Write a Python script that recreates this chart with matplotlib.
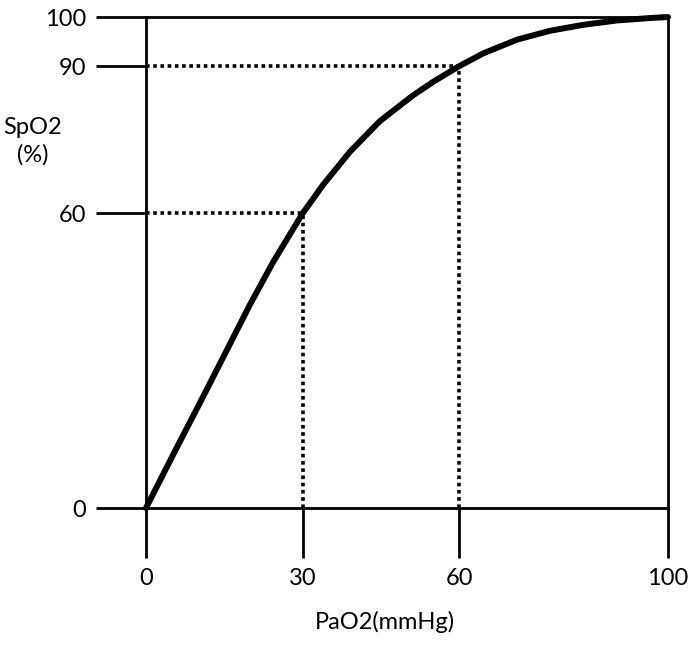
import matplotlib
matplotlib.use("Agg")
import matplotlib.pyplot as plt

plt.rcParams['font.family'] = ['Lato', 'DejaVu Sans']

# 酸素解離曲線
pao2 = [0, 5.5, 11, 15.5, 20, 24.3, 30, 33.9, 39.1, 44.8, 51.1, 55, 60,
        64.6, 71.1, 77.4, 83.7, 90.2, 96.6, 100]
spo2 = [0, 11.5, 22.8, 32.2, 41.6, 50, 60, 65.8, 72.6, 78.8, 84, 86.8, 90,
        92.6, 95.4, 97.2, 98.4, 99.3, 99.8, 100]

# 点線の目安
guide_x = [30, 60]
guide_y = [60, 90]

xticks = [0, 30, 60, 100]
yticks = [0, 60, 90, 100]

fig = plt.figure(figsize=(7, 6.45), dpi=100)
ax = fig.add_axes([0.2086, 0.2124, 0.7457, 0.7612])

ax.plot(pao2, spo2, color='black', linewidth=4.3, solid_capstyle='round',
        solid_joinstyle='round', clip_on=False, zorder=3)

for gx, gy in zip(guide_x, guide_y):
    ax.plot([0, gx], [gy, gy], color='black', linewidth=2.6,
            linestyle=(0, (1, 1)), zorder=2)
    ax.plot([gx, gx], [0, gy], color='black', linewidth=2.6,
            linestyle=(0, (1, 1)), zorder=2)

ax.set_xlim(0, 100)
ax.set_ylim(0, 100)
ax.set_xticks(xticks)
ax.set_yticks(yticks)
ax.tick_params(direction='out', length=36, width=2, labelsize=17, pad=7)
for s in ax.spines.values():
    s.set_linewidth(2)

ax.text(0.458, -0.233, "PaO2(mmHg)", transform=ax.transAxes, fontsize=17,
        ha='center', va='center')
ax.text(-0.2165, 0.747, "SpO2\n(%)", transform=ax.transAxes, fontsize=17,
        ha='center', va='center', linespacing=1.3)

fig.savefig("out.png", dpi=100)
